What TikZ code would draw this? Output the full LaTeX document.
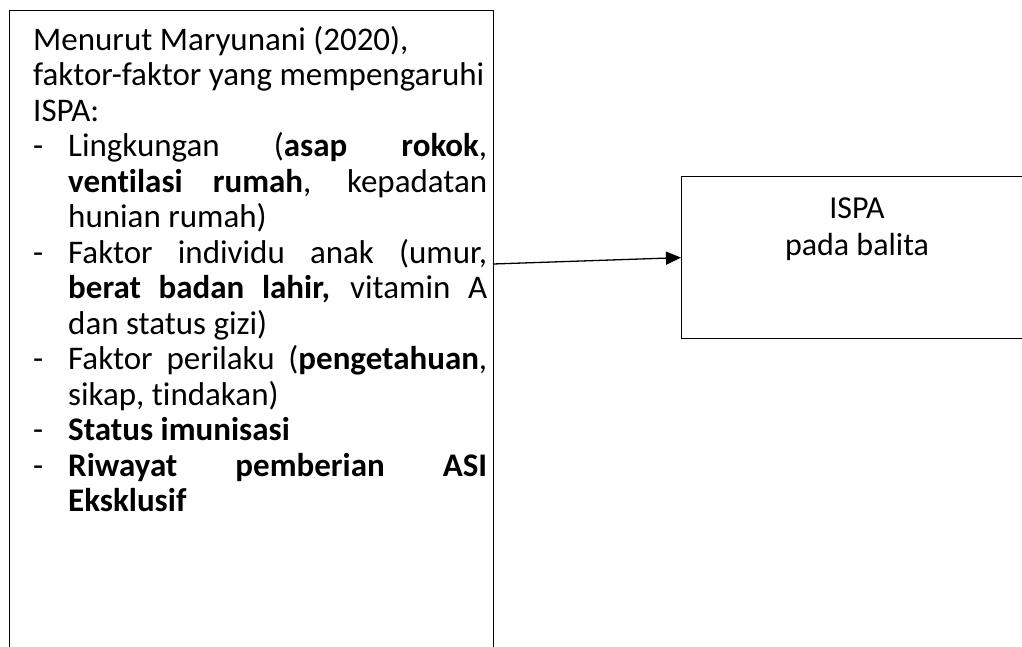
\documentclass[tikz,border=0pt]{standalone}
\usepackage{fontspec}
\setmainfont{Carlito}[Ligatures=NoCommon]
\usetikzlibrary{arrows.meta}
\tikzset{
  box/.style={draw, line width=1.2pt, rectangle, inner sep=0pt},
  conn/.style={line width=1.3pt, -{Triangle[length=15pt,width=13pt]}},
  body/.style={inner sep=0pt, font=\fontsize{33}{35.5}\selectfont}
}
\newcommand{\itm}[1]{\par\hangindent=35pt\hangafter=1\noindent\makebox[35pt][l]{-}#1}
\begin{document}
\begin{tikzpicture}[x=1pt,y=1pt]
\useasboundingbox (0,0) rectangle (1022,-646);
\clip (0,0) rectangle (1022,-646);
\node[box, minimum width=484pt, minimum height=680pt, anchor=north west] (factors) at (9,-10) {};
\node[body, anchor=base west] (factortext) at (33,-50) {\begin{minipage}[t]{454pt}\parindent=0pt\parskip=0pt\hyphenpenalty=10000\emergencystretch=2em
Menurut Maryunani (2020),\newline
faktor-faktor yang mempengaruhi\newline
ISPA:
\itm{Lingkungan (\textbf{asap rokok},\linebreak \textbf{ventilasi rumah}, kepadatan\linebreak hunian rumah)}
\itm{Faktor individu anak (umur,\linebreak \textbf{berat badan lahir,} vitamin A\linebreak dan status gizi)}
\itm{Faktor perilaku (\textbf{pengetahuan},\linebreak sikap, tindakan)}
\itm{\textbf{Status imunisasi}}
\itm{\textbf{Riwayat pemberian ASI\linebreak Eksklusif}}
\end{minipage}};
\node[box, minimum width=352pt, minimum height=162pt, anchor=north west] (ispa) at (681,-176) {};
\node[body, anchor=base, font=\fontsize{32}{37}\selectfont] (ispatext) at (857,-218) {\begin{minipage}[t]{300pt}\centering ISPA\\pada balita\end{minipage}};
\coordinate (start) at (493,-264);
\draw[conn] (start) -- (ispa.west);
\end{tikzpicture}
\end{document}
